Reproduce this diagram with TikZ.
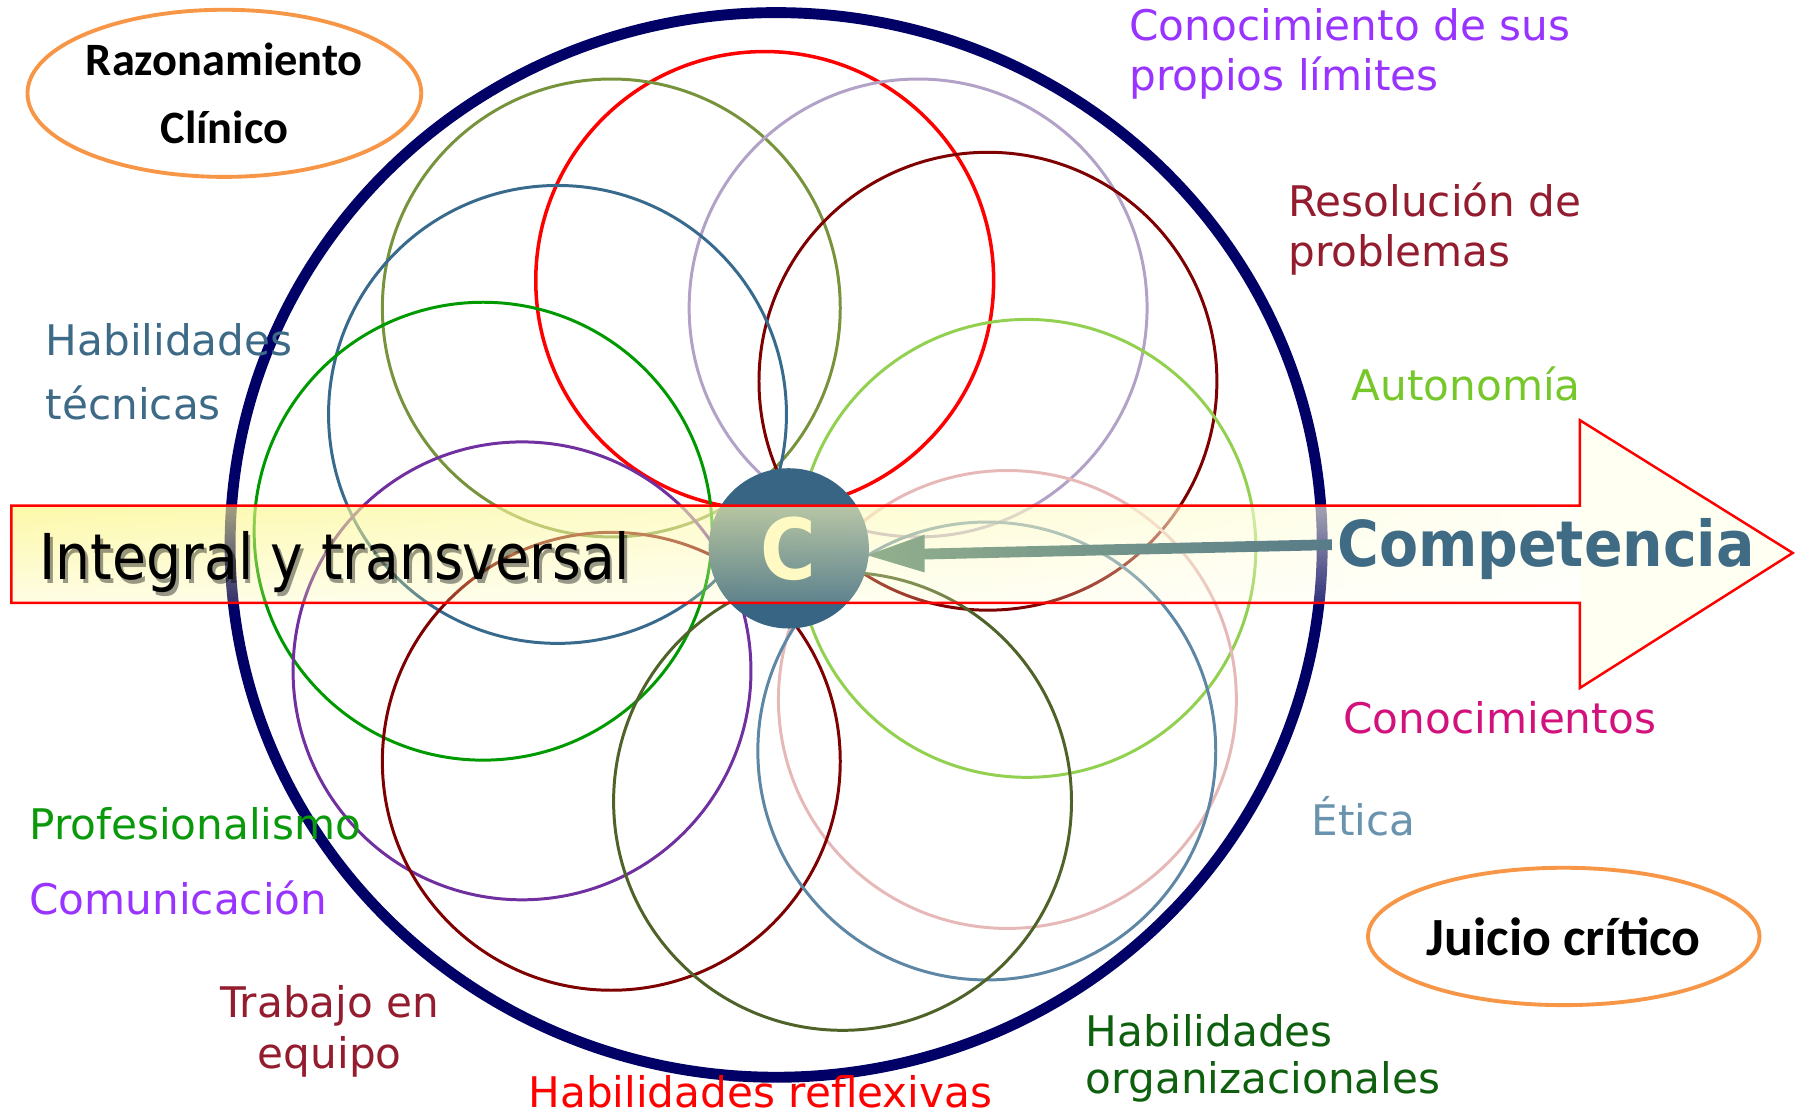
\documentclass[tikz,border=0pt]{standalone}
\usepackage{fontspec}
\setmainfont{DejaVu Sans}
\newfontfamily\narrowfont{DejaVu Sans Condensed}
\newfontfamily\calibfont{Carlito}
\usetikzlibrary{calc,fadings}

\definecolor{navyring}{HTML}{000066}
\definecolor{ringred}{HTML}{FF0000}
\definecolor{ringolive}{HTML}{77933C}
\definecolor{ringlav}{HTML}{B3A2C7}
\definecolor{ringmaroon}{HTML}{7F0000}
\definecolor{ringsteel}{HTML}{376A8C}
\definecolor{ringgreen}{HTML}{009A00}
\definecolor{ringlime}{HTML}{92D050}
\definecolor{ringpink}{HTML}{E6B9B8}
\definecolor{ringpurple}{HTML}{7030A0}
\definecolor{ringslate}{HTML}{5E87A6}
\definecolor{ringdkolive}{HTML}{4F6228}
\definecolor{txtpurple}{HTML}{9933FF}
\definecolor{txtwine}{HTML}{931C2E}
\definecolor{txtlime}{HTML}{76C82A}
\definecolor{txtsteel}{HTML}{3D6A87}
\definecolor{txtmagenta}{HTML}{D3117C}
\definecolor{txtslate}{HTML}{6A93AE}
\definecolor{txtgreen}{HTML}{0A990A}
\definecolor{txtdkgreen}{HTML}{0E600E}
\definecolor{ballblue}{HTML}{376583}
\definecolor{ballletter}{HTML}{FFF9C4}
\definecolor{comptext}{HTML}{3F6B84}
\definecolor{arrowleft}{HTML}{93B08C}
\definecolor{arrowright}{HTML}{577B89}
\definecolor{ovalorange}{HTML}{F79646}
\definecolor{bandyellow}{HTML}{FBF57A}
\definecolor{headfill}{HTML}{FFFFF2}

\tikzfading[name=bandfade, top color=transparent!35, bottom color=transparent!80]

\tikzset{
  ring/.style={line width=0.85pt},
  lbl/.style={font=\fontsize{12}{14.2}\selectfont, inner sep=0pt, anchor=base west, align=left},
  bigtxt/.style={font=\narrowfont\fontsize{18}{20}\selectfont, inner sep=0pt, anchor=base west},
  ovaltxt/.style={font=\calibfont\bfseries\fontsize{13.2}{19.4}\selectfont, inner sep=0pt, align=center},
  oval/.style={draw=ovalorange, line width=1.1pt},
  cball/.style={circle, fill=ballblue, minimum size=16.03mm, inner sep=0pt},
  arrowline/.style={draw=red, line width=0.7pt, line join=miter}
}

\begin{document}
\begin{tikzpicture}[x=0.11448mm, y=-0.11448mm]
\useasboundingbox (0,0) rectangle (1568,973);

% outer ring
\draw[navyring, line width=3.1pt] (678,476) ellipse [x radius=477, y radius=465];

% petals
\draw[ring, ringred, line width=1pt] (668,245) circle [radius=200];
\draw[ring, ringolive] (534,269) circle [radius=200];
\draw[ring, ringlav] (802,269) circle [radius=200];
\draw[ring, ringmaroon] (863,333) circle [radius=200];
\draw[ring, ringsteel] (487,362) circle [radius=200];
\draw[ring, ringgreen] (422,464) circle [radius=200];
\draw[ring, ringlime] (897,479) circle [radius=200];
\draw[ring, ringpink] (880,611) circle [radius=200];
\draw[ring, ringpurple] (456,586) circle [radius=200];
\draw[ring, ringmaroon] (534,665) circle [radius=200];
\draw[ring, ringslate] (862,656) circle [radius=200];
\draw[ring, ringdkolive] (736,700) circle [radius=200];

% centre ball
\node[cball] (cn) at (689,479) {};

% big band arrow
\fill[headfill] (1380,367) -- (1566,483) -- (1380,601) -- cycle;
\shade[left color=bandyellow, right color=headfill, path fading=bandfade] (10,441.7) rectangle (1380,526.7);
\draw[arrowline] (10,441.7) -- (1380,441.7) -- (1380,367) -- (1566,483) -- (1380,601) -- (1380,526.7) -- (10,526.7) -- cycle;

\node[font=\narrowfont\bfseries\fontsize{24}{26}\selectfont, text=ballletter, inner sep=0pt] (cl) at (cn.center) {C};

% competencia
\node[bigtxt, font=\narrowfont\bfseries\fontsize{18}{20}\selectfont, text=comptext] (comp) at (1167.6,494.5) {Competencia};
\path (cn.east) ++(-2,6) coordinate (tipC);
\path (comp.west) ++(-4,-3.5) coordinate (tailC);
\shade[left color=arrowleft, right color=arrowright]
  ($(tailC)+(0,-4.7)$) -- ($(tipC)+(50,-5.8)$) -- ($(tipC)+(50,-18)$) -- (tipC)
  -- ($(tipC)+(50,15)$) -- ($(tipC)+(50,3.7)$) -- ($(tailC)+(0,4.7)$) -- cycle;

% integral
\node[bigtxt, xscale=0.97, text=black, opacity=0.4] (integsh) at (36.5,509.5) {Integral y transversal};
\node[bigtxt, xscale=0.97] (integ) at (34,506) {Integral y transversal};

% labels
\node[lbl, text=txtpurple, font=\fontsize{12}{14.1}\selectfont] (limites) at (986,79) {Conocimiento de sus\\propios límites};
\node[lbl, text=txtwine, font=\fontsize{12}{14.3}\selectfont] (resol) at (1124.7,233) {Resolución de\\problemas};
\node[lbl, text=txtlime] (auto) at (1180,349.5) {Autonomía};
\node[lbl, text=txtsteel, font=\fontsize{12}{18.2}\selectfont] (tecnicas) at (39.3,366) {Habilidades\\técnicas};
\node[lbl, text=txtmagenta] (conoc) at (1173,641) {Conocimientos};
\node[lbl, text=txtslate] (etica) at (1145,729.5) {Ética};
\node[lbl, text=txtgreen] (profes) at (25,733) {Profesionalismo};
\node[lbl, text=txtpurple] (comun) at (25,799) {Comunicación};
\node[lbl, anchor=base, align=center, text=txtwine, font=\fontsize{12}{14.3}\selectfont] (equipo) at (288,933) {Trabajo en\\equipo};
\node[lbl, text=red] (reflex) at (461,967) {Habilidades reflexivas};
\node[lbl, text=txtdkgreen, font=\fontsize{12}{13.2}\selectfont] (organiz) at (948,955) {Habilidades\\organizacionales};

% ovals
\node[ovaltxt] (razon) at (196,81.5) {Razonamiento\\Clínico};
\draw[oval] (razon.center) ellipse [x radius=172, y radius=73];
\node[ovaltxt, font=\calibfont\bfseries\fontsize{15.3}{18}\selectfont] (juicio) at (1366,818) {Juicio crítico};
\draw[oval] (juicio.center) ellipse [x radius=171, y radius=60];

\end{tikzpicture}
\end{document}
